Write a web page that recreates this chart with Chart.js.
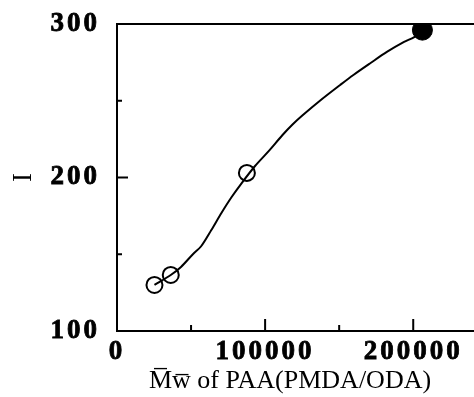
<!DOCTYPE html>
<html>
<head>
<meta charset="utf-8">
<script src="https://cdn.jsdelivr.net/npm/chart.js@4.4.0/dist/chart.umd.min.js"></script>
<style>
  html, body { margin: 0; padding: 0; background: #fff; overflow: hidden; }
</style>
</head>
<body>
<canvas id="chart" width="474" height="397"></canvas>
<script>
// measured points (open circles) and the last point (filled)
const mwOpen = [25300, 36300, 87700];
const iOpen = [130, 136.5, 203];
const mwFilled = [206200];
const iFilled = [296];

// the drawn curve
const mwCurve = [25300, 36300, 43200, 51400, 56800, 63700, 70500, 77400, 84200, 93200,
  102700, 111600, 118500, 125300, 137000, 150700, 159600, 171200, 182200, 193800, 200700, 206200];
const iCurve = [130, 136.5, 141.7, 150.2, 155.2, 165.8, 176.9, 187.3, 196.4, 207.5,
  217.5, 227.5, 234.5, 240.5, 250, 260.3, 266.8, 274.6, 281.8, 288.3, 291.5, 296];

const xTicks = [0, 100000, 200000];
const yTicks = [100, 200, 300];
const xMinor = [50000, 150000];
const yMinor = [150, 250];

const toXY = (xs, ys) => xs.map((x, i) => ({ x: x, y: ys[i] }));

// frame lines + inward ticks, and wider letter spacing for the bold tick labels
const framePlugin = {
    id: "frame",
    afterDatasetsDraw(chart) {
        chart.ctx.letterSpacing = "3px";
    },
    afterDraw(chart) {
        const ctx = chart.ctx;
        ctx.letterSpacing = "0px";
        const xs = chart.scales.x;
        const ys = chart.scales.y;
        const left = xs.getPixelForValue(0);
        const bottom = ys.getPixelForValue(100);
        const top = ys.getPixelForValue(300);
        ctx.save();
        ctx.strokeStyle = "#000";
        ctx.lineWidth = 2;
        ctx.beginPath();
        ctx.moveTo(chart.width, top);
        ctx.lineTo(left, top);
        ctx.lineTo(left, bottom);
        ctx.lineTo(chart.width, bottom);
        xTicks.forEach(v => {
            const p = xs.getPixelForValue(v);
            ctx.moveTo(p, bottom);
            ctx.lineTo(p, bottom - 12);
        });
        xMinor.forEach(v => {
            const p = xs.getPixelForValue(v);
            ctx.moveTo(p, bottom);
            ctx.lineTo(p, bottom - 6);
        });
        ctx.moveTo(left, ys.getPixelForValue(200));
        ctx.lineTo(left + 11, ys.getPixelForValue(200));
        yMinor.forEach(v => {
            const p = ys.getPixelForValue(v);
            ctx.moveTo(left, p);
            ctx.lineTo(left + 5, p);
        });
        ctx.stroke();
        ctx.restore();
    }
};

new Chart(document.getElementById("chart").getContext("2d"), {
    type: "scatter",
    data: {
        datasets: [
            {
                type: "line",
                data: toXY(mwCurve, iCurve),
                borderColor: "#000",
                borderWidth: 2,
                pointRadius: 0,
                tension: 0.3,
                fill: false
            },
            {
                data: toXY(mwOpen, iOpen),
                pointRadius: 8,
                pointBorderWidth: 2,
                pointBorderColor: "#000",
                pointBackgroundColor: "rgba(0,0,0,0)"
            },
            {
                data: toXY(mwFilled, iFilled),
                pointRadius: 10,
                pointBorderWidth: 1,
                pointBorderColor: "#000",
                pointBackgroundColor: "#000"
            }
        ]
    },
    options: {
        responsive: false,
        animation: false,
        layout: { padding: 0 },
        plugins: { legend: { display: false }, tooltip: { enabled: false } },
        scales: {
            x: {
                type: "linear",
                min: 0,
                max: 233600,
                afterFit: s => { s.height = 66; },
                afterBuildTicks: s => { s.ticks = xTicks.map(v => ({ value: v })); },
                grid: { display: false, drawTicks: false },
                border: { display: false },
                ticks: {
                    z: 1,
                    padding: 5,
                    maxRotation: 0,
                    color: "#000",
                    textStrokeColor: "#000",
                    textStrokeWidth: 0.8,
                    font: { family: "'Liberation Serif', serif", size: 27, weight: "bold" },
                    callback: v => String(v)
                },
                title: {
                    display: true,
                    text: "M\u0305w\u0305 of PAA(PMDA/ODA)",
                    color: "#000",
                    padding: { top: 2, bottom: 0 },
                    font: { family: "'Liberation Serif', serif", size: 26 }
                }
            },
            y: {
                type: "linear",
                min: 100,
                max: 300,
                afterFit: s => { s.width = 117; s.paddingTop = 24; },
                afterBuildTicks: s => { s.ticks = yTicks.map(v => ({ value: v })); },
                grid: { display: false, drawTicks: false },
                border: { display: false },
                ticks: {
                    z: 1,
                    padding: 17,
                    color: "#000",
                    textStrokeColor: "#000",
                    textStrokeWidth: 0.8,
                    font: { family: "'Liberation Serif', serif", size: 27, weight: "bold" }
                },
                title: {
                    display: true,
                    text: "I",
                    color: "#000",
                    padding: { top: 8, bottom: 0 },
                    font: { family: "'Liberation Serif', serif", size: 27 }
                }
            }
        }
    },
    plugins: [framePlugin]
});
</script>
</body>
</html>
